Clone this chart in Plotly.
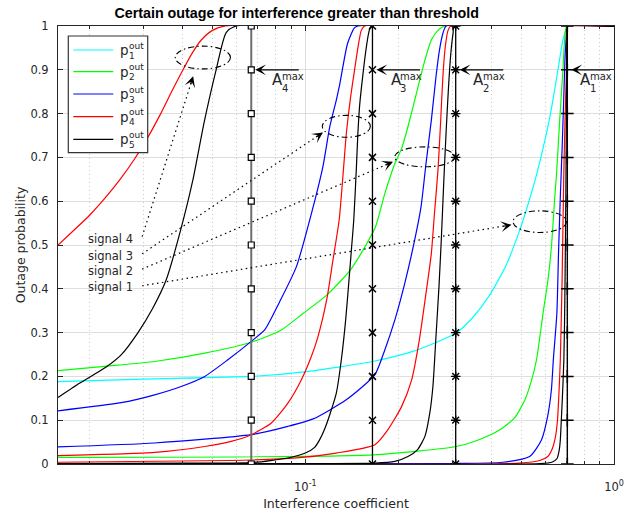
import numpy as np
import plotly.graph_objects as go

# ---------------------------------------------------------------- data
# Thresholds A_i^max (interference coefficient) for signals 1..4
a_max = [0.706, 0.307, 0.165, 0.0668]
marker_levels = [0.0, 0.1, 0.2, 0.3, 0.4, 0.5, 0.6, 0.7, 0.8, 0.9, 1.0]

# p1 (signal 1)
p1_s1_x = [0.0158, 0.030, 0.0668, 0.101, 0.165, 0.223, 0.308, 0.349, 0.395, 0.448, 0.495,
           0.520, 0.547, 0.575, 0.619, 0.658, 0.683, 0.701, 0.709, 1.0]
p1_s1_y = [0.188, 0.194, 0.200, 0.211, 0.234, 0.257, 0.299, 0.335, 0.385, 0.455, 0.534,
           0.580, 0.632, 0.690, 0.790, 0.899, 0.968, 0.994, 1.0, 1.0]

# p2 (signals 2 and 1)
p2_s2_x = [0.0158, 0.0224, 0.0325, 0.0472, 0.0668, 0.0836, 0.098, 0.117, 0.140, 0.168, 0.181,
           0.195, 0.205, 0.215, 0.229, 0.244, 0.256, 0.269, 0.283, 1.0]
p2_s2_y = [0.213, 0.223, 0.234, 0.253, 0.278, 0.306, 0.343, 0.385, 0.443, 0.538, 0.618,
           0.686, 0.720, 0.770, 0.846, 0.922, 0.968, 0.990, 1.0, 1.0]
p2_s1_x = [0.0158, 0.165, 0.308, 0.367, 0.427, 0.477, 0.515, 0.541, 0.561, 0.589, 0.611,
           0.627, 0.643, 0.651, 0.667, 0.683, 0.692, 0.704, 1.0]
p2_s1_y = [0.015, 0.021, 0.040, 0.056, 0.078, 0.106, 0.147, 0.192, 0.238, 0.344, 0.420,
           0.496, 0.610, 0.660, 0.785, 0.899, 0.968, 1.0, 1.0]

# p3 (signals 3, 2 and 1)
p3_s3_x = [0.0158, 0.0253, 0.0325, 0.0396, 0.0472, 0.0561, 0.0668, 0.0738, 0.0825, 0.0935,
           0.1033, 0.114, 0.120, 0.126, 0.1291, 0.137, 0.144, 0.148, 1.0]
p3_s3_y = [0.1215, 0.140, 0.158, 0.177, 0.200, 0.238, 0.280, 0.306, 0.370, 0.450,
           0.557, 0.679, 0.770, 0.831, 0.865, 0.960, 0.995, 1.0, 1.0]
p3_s2_x = [0.0158, 0.0325, 0.0668, 0.0878, 0.106, 0.136, 0.168, 0.181, 0.195, 0.210,
           0.226, 0.237, 0.246, 0.256, 0.265, 0.272, 0.279, 0.286, 1.0]
p3_s2_y = [0.039, 0.048, 0.067, 0.086, 0.103, 0.147, 0.204, 0.261, 0.329, 0.413,
           0.511, 0.587, 0.686, 0.785, 0.884, 0.945, 0.983, 1.0, 1.0]
p3_s1_x = [0.0158, 0.300, 0.436, 0.533, 0.582, 0.610, 0.627, 0.636, 0.653, 0.661, 0.670,
           0.679, 0.687, 0.695, 0.703, 0.708, 1.0]
p3_s1_y = [0.0, 0.001, 0.004, 0.017, 0.055, 0.110, 0.170, 0.238, 0.344, 0.480, 0.610,
           0.720, 0.830, 0.937, 0.985, 1.0, 1.0]

# p4 (signals 4, 3, 2 and 1)
p4_s4_x = [0.0158, 0.018, 0.020, 0.0225, 0.025, 0.028, 0.031, 0.034, 0.037, 0.040, 0.043,
           0.046, 0.050, 0.055, 1.0]
p4_s4_y = [0.50, 0.537, 0.568, 0.608, 0.648, 0.697, 0.748, 0.800, 0.852, 0.898, 0.938,
           0.968, 0.990, 1.0, 1.0]
p4_s3_x = [0.0158, 0.0325, 0.0472, 0.0575, 0.0668, 0.0776, 0.0878, 0.097, 0.1045, 0.1096,
           0.1175, 0.1229, 0.1287, 0.1331, 0.1358, 0.1403, 0.1444, 0.148, 0.1518, 0.1556, 1.0]
p4_s3_y = [0.019, 0.0265, 0.040, 0.0515, 0.0668, 0.0935, 0.139, 0.192, 0.245, 0.288,
           0.378, 0.466, 0.557, 0.679, 0.755, 0.840, 0.900, 0.950, 0.990, 1.0, 1.0]
p4_s2_x = [0.0158, 0.0568, 0.0935, 0.126, 0.168, 0.185, 0.205, 0.221, 0.234, 0.246, 0.256,
           0.262, 0.269, 0.2745, 0.279, 0.284, 0.290, 0.296, 1.0]
p4_s2_y = [0.004, 0.008, 0.014, 0.025, 0.044, 0.078, 0.131, 0.192, 0.283, 0.390, 0.481,
           0.572, 0.671, 0.785, 0.884, 0.952, 0.990, 1.0, 1.0]
p4_s1_x = [0.0158, 0.495, 0.575, 0.610, 0.631, 0.646, 0.656, 0.663, 0.670, 0.679, 0.687,
           0.694, 0.700, 0.704, 0.707, 1.0]
p4_s1_y = [0.0, 0.002, 0.008, 0.017, 0.035, 0.062, 0.100, 0.160, 0.238, 0.420, 0.648,
           0.785, 0.877, 0.957, 1.0, 1.0]

# p5 (signals 4, 3, 2 and 1)
p5_s4_x = [0.0158, 0.0186, 0.0227, 0.0253, 0.0287, 0.032, 0.0354, 0.0392, 0.0432, 0.047,
           0.0514, 0.0554, 0.0597, 1.0]
p5_s4_y = [0.152, 0.185, 0.222, 0.249, 0.300, 0.355, 0.420, 0.527, 0.648, 0.780,
           0.900, 0.985, 1.0, 1.0]
p5_s3_x = [0.0158, 0.040, 0.0668, 0.0878, 0.100, 0.1072, 0.1112, 0.1155, 0.1199, 0.126,
           0.1308, 0.1351, 0.1385, 0.141, 0.1435, 0.1464, 0.148, 0.150, 0.1537, 0.1575,
           0.1605, 0.1635, 1.0]
p5_s3_y = [0.001, 0.002, 0.003, 0.0137, 0.025, 0.038, 0.055, 0.080, 0.112, 0.162,
           0.238, 0.329, 0.420, 0.489, 0.557, 0.679, 0.755, 0.820, 0.890, 0.950,
           0.985, 1.0, 1.0]
p5_s2_x = [0.0158, 0.100, 0.168, 0.195, 0.215, 0.231, 0.244, 0.253, 0.259, 0.265, 0.271,
           0.276, 0.281, 0.286, 0.291, 0.296, 0.301, 0.304, 1.0]
p5_s2_y = [0.0, 0.001, 0.002, 0.006, 0.017, 0.033, 0.063, 0.116, 0.177, 0.291, 0.405,
           0.519, 0.648, 0.762, 0.861, 0.937, 0.983, 1.0, 1.0]
p5_s1_x = [0.0158, 0.575, 0.629, 0.653, 0.665, 0.670, 0.675, 0.680, 0.688, 0.693, 0.698,
           0.701, 0.703, 0.705, 0.707, 1.0]
p5_s1_y = [0.0, 0.001, 0.004, 0.012, 0.033, 0.055, 0.100, 0.147, 0.238, 0.375, 0.603,
           0.785, 0.922, 0.990, 1.0, 1.0]

series_colors = {"p1": "#00ffff", "p2": "#00ff00", "p3": "#0000ff", "p4": "#ff0000", "p5": "#000000"}
curves = [
    ("p1", p1_s1_x, p1_s1_y),
    ("p2", p2_s2_x, p2_s2_y), ("p2", p2_s1_x, p2_s1_y),
    ("p3", p3_s3_x, p3_s3_y), ("p3", p3_s2_x, p3_s2_y), ("p3", p3_s1_x, p3_s1_y),
    ("p4", p4_s4_x, p4_s4_y), ("p4", p4_s3_x, p4_s3_y), ("p4", p4_s2_x, p4_s2_y), ("p4", p4_s1_x, p4_s1_y),
    ("p5", p5_s4_x, p5_s4_y), ("p5", p5_s3_x, p5_s3_y), ("p5", p5_s2_x, p5_s2_y), ("p5", p5_s1_x, p5_s1_y),
]

x_major_ticks = [0.1, 1.0]
x_major_text = ["10<sup>-1</sup>", "10<sup>0</sup>"]
x_minor_ticks = [0.02, 0.03, 0.04, 0.05, 0.06, 0.07, 0.08, 0.09,
                 0.2, 0.3, 0.4, 0.5, 0.6, 0.7, 0.8, 0.9]

signal_names = ["signal 4", "signal 3", "signal 2", "signal 1"]

# ---------------------------------------------------------------- geometry
W, H = 625, 515
ML, MR, MT, MB = 58, 11, 26, 51
X_MIN = 0.0158
PLOT_W = W - ML - MR
PLOT_H = H - MT - MB
PX_PER_DEC = PLOT_W / (0.0 - np.log10(X_MIN))

INK = "#262626"
FONT = "DejaVu Sans"


def paper_x(px):
    return (px - ML) / PLOT_W


def paper_y(py):
    return (H - MB - py) / PLOT_H


fig = go.Figure()

# outage curves
for key, xs, ys in curves:
    fig.add_trace(go.Scatter(x=xs, y=ys, mode="lines",
                             line=dict(color=series_colors[key], width=1.2,
                                       shape="spline", smoothing=0.6),
                             showlegend=False, hoverinfo="skip"))

# threshold lines with markers (A1 plus, A2 asterisks, A3 x, A4 squares)
thr_styles = [
    dict(sym="cross-thin-open", size=9, lc="#000000", lw=1.4, mw=1.5, fill="#000000"),
    dict(sym="asterisk-open", size=8, lc="#000000", lw=1.3, mw=1.4, fill="#000000"),
    dict(sym="x-thin-open", size=7, lc="#000000", lw=1.3, mw=1.5, fill="#000000"),
    dict(sym="square", size=6, lc="#6e6e6e", lw=2.0, mw=1.2, fill="#ffffff"),
]
for a, st in zip(a_max, thr_styles):
    fig.add_trace(go.Scatter(
        x=[a] * len(marker_levels), y=marker_levels, mode="lines+markers",
        line=dict(color=st["lc"], width=st["lw"]),
        marker=dict(symbol=st["sym"], size=st["size"], color=st["fill"],
                    line=dict(color="#000000", width=st["mw"])),
        showlegend=False, hoverinfo="skip"))

shapes = []
annotations = []

# A_i^max arrows and labels
a_label_x = [0.7649, 0.3452, 0.1866, 0.0770]
for i, (a, lx) in enumerate(zip(a_max, a_label_x)):
    idx = str(i + 1)
    tail = 40 if i == 0 else 45
    annotations.append(dict(
        x=np.log10(a) + 4 / PX_PER_DEC, y=0.9, xref="x", yref="y", text="",
        showarrow=True, ax=tail, ay=0, axref="pixel", ayref="pixel",
        arrowhead=3, arrowsize=1.5, arrowwidth=1.2, arrowcolor="#000000"))
    annotations.append(dict(x=np.log10(lx), y=0.876, xref="x", yref="y", text="A",
                            showarrow=False, xanchor="left", yanchor="middle",
                            font=dict(family=FONT, size=15, color=INK)))
    annotations.append(dict(x=np.log10(lx), y=0.876, xref="x", yref="y", text="max",
                            showarrow=False, xanchor="left", yanchor="middle",
                            xshift=9.5, yshift=4,
                            font=dict(family=FONT, size=10, color=INK)))
    annotations.append(dict(x=np.log10(lx), y=0.876, xref="x", yref="y", text=idx,
                            showarrow=False, xanchor="left", yanchor="middle",
                            xshift=9.5, yshift=-8.5,
                            font=dict(family=FONT, size=10, color=INK)))

# signal labels, dotted pointers and dash-dot ellipses
sig_text_x = 0.0194
sig_text_y = [0.513, 0.476, 0.440, 0.403]
ptr_start_x = 0.0296
ptr_start_y = [0.519, 0.480, 0.445, 0.407]
ptr_tip_x = [0.0433, 0.1140, 0.1923, 0.4655]
ptr_tip_y = [0.885, 0.757, 0.690, 0.546]
ell_x = [(0.0379, 0.0572), (0.1135, 0.1624), (0.1948, 0.3048), (0.4710, 0.7015)]
ell_y = [(0.902, 0.954), (0.746, 0.796), (0.6785, 0.724), (0.5285, 0.578)]

for name, ty, sy, tx, tyy, ex, ey in zip(signal_names, sig_text_y, ptr_start_y,
                                         ptr_tip_x, ptr_tip_y, ell_x, ell_y):
    annotations.append(dict(x=np.log10(sig_text_x), y=ty, xref="x", yref="y", text=name,
                            showarrow=False, xanchor="left", yanchor="middle",
                            font=dict(family=FONT, size=11.5, color=INK)))
    shapes.append(dict(type="line", xref="x", yref="y", x0=ptr_start_x, y0=sy, x1=tx, y1=tyy,
                       line=dict(color="#000000", width=1.2, dash="1.5px,3.5px")))
    dx = (np.log10(ptr_start_x) - np.log10(tx)) * PX_PER_DEC
    dy = (sy - tyy) * PLOT_H
    length = np.hypot(dx, dy)
    t = 10.0 / length
    annotations.append(dict(x=np.log10(tx), y=tyy, xref="x", yref="y", text="",
                            showarrow=True, ax=dx * t, ay=-dy * t, axref="pixel", ayref="pixel",
                            arrowhead=3, arrowsize=1.5, arrowwidth=1.2, arrowcolor="#000000"))
    shapes.append(dict(type="circle", xref="x", yref="y", x0=ex[0], x1=ex[1], y0=ey[0], y1=ey[1],
                       line=dict(color="#000000", width=1.1, dash="6px,3px,1.5px,3px")))

# legend box
LEG_L, LEG_R, LEG_T, LEG_B = 68.3, 147.7, 36.0, 152.7
leg_rows = [50.0, 71.7, 94.0, 116.7, 139.3]
shapes.append(dict(type="rect", xref="paper", yref="paper",
                   x0=paper_x(LEG_L), x1=paper_x(LEG_R), y0=paper_y(LEG_B), y1=paper_y(LEG_T),
                   fillcolor="#ffffff", line=dict(color="#333333", width=1.2), layer="above"))
for k, (key, ry) in enumerate(zip(["p1", "p2", "p3", "p4", "p5"], leg_rows)):
    shapes.append(dict(type="line", xref="paper", yref="paper",
                       x0=paper_x(73.3), x1=paper_x(113.3), y0=paper_y(ry), y1=paper_y(ry),
                       line=dict(color=series_colors[key], width=1.2), layer="above"))
    annotations.append(dict(x=paper_x(117.5), y=paper_y(ry), xref="paper", yref="paper", text="p",
                            showarrow=False, xanchor="left", yanchor="middle",
                            font=dict(family=FONT, size=13.5, color=INK)))
    annotations.append(dict(x=paper_x(127.0), y=paper_y(ry - 4.4), xref="paper", yref="paper",
                            text="out", showarrow=False, xanchor="left", yanchor="middle",
                            font=dict(family=FONT, size=9, color=INK)))
    annotations.append(dict(x=paper_x(127.0), y=paper_y(ry + 5.5), xref="paper", yref="paper",
                            text=str(k + 1), showarrow=False, xanchor="left", yanchor="middle",
                            font=dict(family=FONT, size=9, color=INK)))

fig.update_layout(
    width=W, height=H,
    margin=dict(l=ML, r=MR, t=MT, b=MB),
    paper_bgcolor="#ffffff", plot_bgcolor="#ffffff",
    showlegend=False,
    title=dict(text="<b>Certain outage for interference greater than threshold</b>",
               x=296.7 / W, xref="container", xanchor="center",
               y=1 - 13.0 / H, yref="container", yanchor="middle",
               font=dict(family="Liberation Sans", size=14.3, color="#000000")),
    xaxis=dict(type="log", range=[np.log10(X_MIN), 0.0], automargin=False,
               tickmode="array", tickvals=x_major_ticks, ticktext=x_major_text,
               ticks="inside", ticklen=5, tickcolor=INK, tickwidth=1,
               showline=True, linecolor=INK, linewidth=1, mirror="ticks",
               showgrid=True, gridcolor="#dedede", gridwidth=1, zeroline=False,
               minor=dict(tickmode="array", tickvals=x_minor_ticks, ticks="inside", ticklen=3,
                          tickcolor=INK, showgrid=True, gridcolor="#c8c8c8", griddash="1px,3px"),
               tickfont=dict(family=FONT, size=11.5, color=INK),
               ticklabelstandoff=12,
               title=dict(text="Interference coefficient", standoff=6,
                          font=dict(family=FONT, size=12.5, color=INK))),
    yaxis=dict(range=[0, 1], tickmode="linear", tick0=0, dtick=0.1, automargin=False,
               ticks="inside", ticklen=5, tickcolor=INK, tickwidth=1,
               showline=True, linecolor=INK, linewidth=1, mirror="ticks",
               showgrid=True, gridcolor="#dedede", gridwidth=1, zeroline=False,
               tickfont=dict(family=FONT, size=11.5, color=INK),
               ticklabelstandoff=6,
               title=dict(text="Outage probability", standoff=2,
                          font=dict(family=FONT, size=12.5, color=INK))),
    shapes=shapes,
    annotations=annotations,
)

fig.write_html("out.html")
